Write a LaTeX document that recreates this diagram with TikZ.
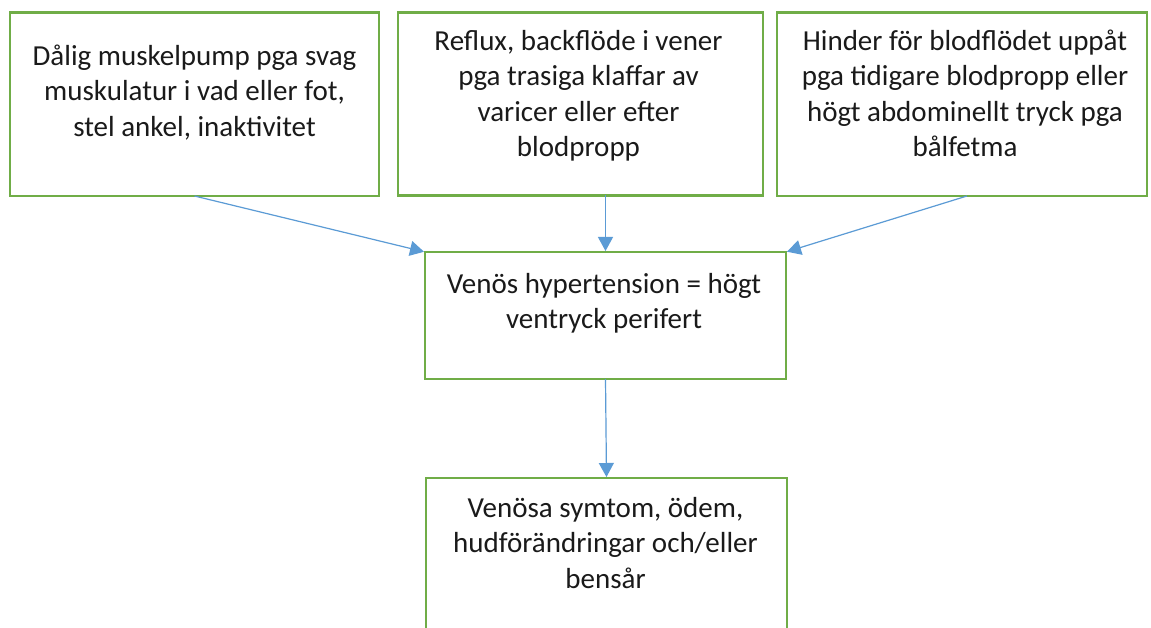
\documentclass[tikz,border=0pt]{standalone}
\usepackage{fontspec}
\setmainfont{Carlito}
\usetikzlibrary{arrows.meta}
\definecolor{boxgreen}{HTML}{70AD47}
\definecolor{arrowblue}{HTML}{5B9BD5}
\definecolor{txt}{HTML}{1A1A1A}
\tikzset{
  box/.style={draw=boxgreen, line width=2.6pt, fill=white, inner sep=0pt, outer sep=0pt},
  lbl/.style={anchor=north, align=center, inner sep=0pt, text=txt, font=\fontsize{29}{35.5}\selectfont},
  conn/.style={draw=arrowblue, line width=1.2pt, -{Triangle[length=14pt,width=15pt]}, shorten >=1pt}
}
\begin{document}
\begin{tikzpicture}[x=1pt,y=-1pt]
\clip (0,0) rectangle (1151,628);
\fill[white] (0,0) rectangle (1151,628);
% boxes
\node[box, minimum width=369pt, minimum height=183.5pt] (b1) at (194.5,104.25) {};
\node[box, minimum width=365pt, minimum height=183pt] (b2) at (580.5,104) {};
\node[box, minimum width=370pt, minimum height=183.5pt] (b3) at (962,104.25) {};
\node[box, minimum width=361pt, minimum height=127pt] (b4) at (605.5,315.5) {};
\node[box, minimum width=361pt, minimum height=183pt] (b5) at (606.5,569.5) {};
% labels
\node[lbl] (t1) at (194.5,40.15) {\strut Dålig muskelpump pga svag\\muskulatur i vad eller fot,\\stel ankel, inaktivitet\strut};
\node[lbl] (t2) at (578.5,25.15) {\strut Reflux, backflöde i vener\\pga trasiga klaffar av\\varicer eller efter\\blodpropp\strut};
\node[lbl] (t3) at (965,25.15) {\strut Hinder för blodflödet uppåt\\pga tidigare blodpropp eller\\högt abdominellt tryck pga\\bålfetma\strut};
\node[lbl] (t4) at (604,268.15) {\strut Venös hypertension = högt\\ventryck perifert\strut};
\node[lbl] (t5) at (605.5,492) {\strut Venösa symtom, ödem,\\hudförändringar och/eller\\bensår\strut};
% connectors
\coordinate (a2) at (b4.north |- b2.south);
\coordinate (a3) at ([xshift=5pt]b3.south);
\draw[conn] (b1.south) -- (b4.north west);
\draw[conn] (a2) -- (b4.north);
\draw[conn] (a3) -- (b4.north east);
\draw[conn] (b4.south) -- (b5.north);
\end{tikzpicture}
\end{document}
